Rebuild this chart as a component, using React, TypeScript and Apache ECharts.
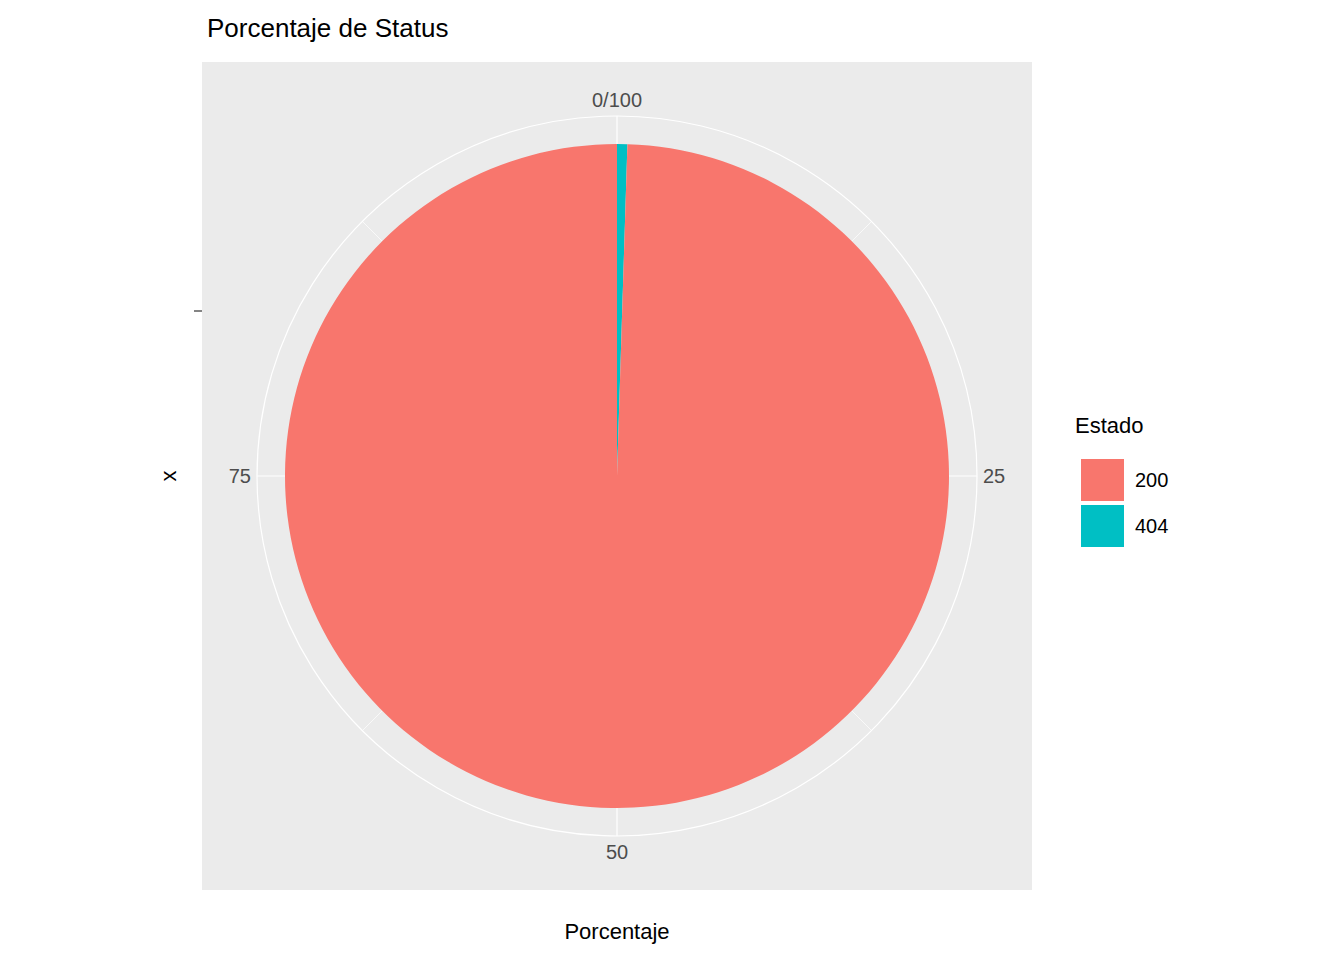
import React, { useEffect, useRef } from 'react';
import * as echarts from 'echarts';

const statusCodes = ['404', '200'];
const percentages = [0.5, 99.5];
const statusColors = ['#00BFC4', '#F8766D'];
const legendOrder = ['200', '404'];
const angleTicks = [0, 25, 50, 75];

const App: React.FC = () => {
  const chartRef = useRef<HTMLDivElement>(null);

  useEffect(() => {
    if (!chartRef.current) return;
    const chart = echarts.init(chartRef.current, undefined, { renderer: 'svg' });
    const font = 'Liberation Sans, Arial, sans-serif';

    chart.setOption({
      animation: false,
      backgroundColor: '#ffffff',
      textStyle: { fontFamily: font },
      title: {
        text: 'Porcentaje de Status',
        left: 202,
        top: 10,
        textStyle: { fontSize: 26, fontWeight: 'normal', color: '#000' },
      },
      graphic: [
        { type: 'rect', z: -10, shape: { x: 202, y: 62, width: 830, height: 828 }, style: { fill: '#EBEBEB' } },
        { type: 'line', shape: { x1: 194, y1: 311, x2: 202, y2: 311 }, style: { stroke: '#333', lineWidth: 1.2 } },
        { type: 'text', x: 617, y: 931, style: { text: 'Porcentaje', fontSize: 22, fill: '#000', fontFamily: font, align: 'center', verticalAlign: 'middle' } },
        { type: 'text', x: 168, y: 476, rotation: Math.PI / 2, style: { text: 'x', fontSize: 22, fill: '#000', fontFamily: font, align: 'center', verticalAlign: 'middle' } },
        { type: 'text', x: 1075, y: 425, style: { text: 'Estado', fontSize: 22, fill: '#000', fontFamily: font, verticalAlign: 'middle' } },
      ],
      legend: {
        data: legendOrder,
        orient: 'vertical',
        left: 1076,
        top: 454,
        icon: 'rect',
        itemWidth: 43,
        itemHeight: 42,
        itemGap: 4,
        textStyle: { fontSize: 20, color: '#000', padding: [0, 0, 0, 6] },
      },
      polar: { center: [617, 476], radius: 360 },
      angleAxis: {
        type: 'value',
        min: 0,
        max: 100,
        interval: 25,
        startAngle: 90,
        clockwise: true,
        axisLine: { show: true, lineStyle: { color: '#ffffff', width: 1.2 } },
        axisTick: { show: false },
        axisLabel: {
          color: '#4D4D4D',
          fontSize: 20,
          margin: 6,
          formatter: (v: number) => (v === 0 ? '0/100' : angleTicks.includes(v) ? String(v) : ''),
        },
        splitLine: { show: true, lineStyle: { color: '#ffffff', width: 1.2 } },
        minorTick: { show: false, splitNumber: 2 },
        minorSplitLine: { show: true, lineStyle: { color: '#ffffff', width: 0.7 } },
      },
      radiusAxis: {
        type: 'value',
        min: 0,
        max: 1,
        axisLine: { show: false },
        axisTick: { show: false },
        axisLabel: { show: false },
        splitLine: { show: false },
      },
      series: [
        {
          type: 'pie',
          center: [617, 476],
          radius: 332,
          startAngle: 90,
          clockwise: true,
          label: { show: false },
          labelLine: { show: false },
          silent: true,
          data: statusCodes.map((s, i) => ({
            name: s,
            value: percentages[i],
            itemStyle: { color: statusColors[i] },
          })),
        },
      ],
    });

    return () => chart.dispose();
  }, []);

  return <div ref={chartRef} style={{ position: 'fixed', left: 0, top: 0, width: 1344, height: 960 }} />;
};

export default App;
